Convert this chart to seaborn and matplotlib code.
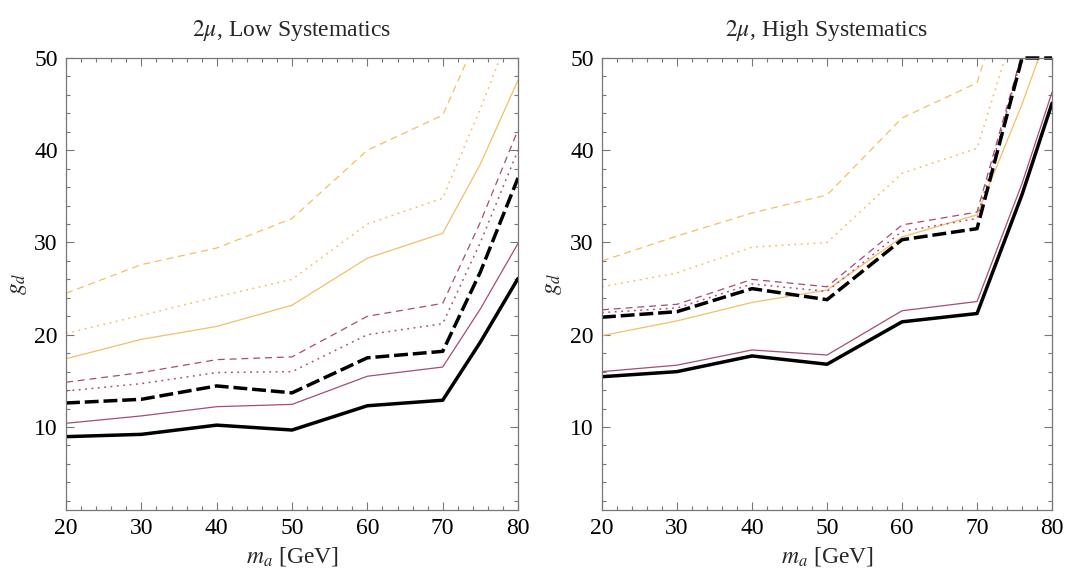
import numpy as np
import pandas as pd
import matplotlib
matplotlib.use("Agg")
import matplotlib.pyplot as plt
import seaborn as sns
from matplotlib.ticker import MultipleLocator

MASS_LOW = [20, 30, 40, 50, 60, 70, 75, 80]
MASS_HIGH = [20, 30, 40, 50, 60, 70, 76, 80]

# low systematics panel
LOW_BLACK_SOLID = [8.95, 9.2, 10.2, 9.67, 12.3, 12.9, 19.2, 26.1]
LOW_PURPLE_SOLID = [10.4, 11.2, 12.2, 12.45, 15.5, 16.5, 22.8, 29.9]
LOW_BLACK_DASHED = [12.6, 13.0, 14.45, 13.7, 17.5, 18.2, 26.8, 37.0]
LOW_PURPLE_DOTTED = [13.9, 14.7, 15.9, 16.0, 20.0, 21.2, 30.0, 40.0]
LOW_PURPLE_DASHED = [14.85, 15.9, 17.3, 17.6, 22.0, 23.4, 32.2, 42.2]
LOW_ORANGE_SOLID = [17.4, 19.5, 20.9, 23.2, 28.3, 31.0, 38.5, 47.6]
LOW_ORANGE_DOTTED = [20.15, 22.1, 24.1, 26.0, 32.0, 34.8, 44.5, 55.0]
LOW_ORANGE_DASHED = [24.5, 27.6, 29.4, 32.6, 40.0, 43.8, 53.0, 62.0]

# high systematics panel
HIGH_BLACK_SOLID = [15.45, 16.0, 17.7, 16.8, 21.4, 22.3, 35.2, 45.1]
HIGH_PURPLE_SOLID = [16.0, 16.7, 18.35, 17.8, 22.6, 23.6, 36.4, 46.3]
HIGH_BLACK_DASHED = [21.9, 22.5, 25.0, 23.8, 30.3, 31.5, 50.0, 50.0]
HIGH_PURPLE_DOTTED = [22.4, 22.9, 25.5, 24.7, 31.2, 32.6, 50.2, 61.0]
HIGH_PURPLE_DASHED = [22.7, 23.3, 26.0, 25.2, 31.9, 33.3, 50.5, 62.0]
HIGH_ORANGE_SOLID = [19.9, 21.5, 23.5, 24.85, 30.6, 33.0, 45.0, 54.0]
HIGH_ORANGE_DOTTED = [25.2, 26.7, 29.5, 30.0, 37.5, 40.2, 56.0, 66.0]
HIGH_ORANGE_DASHED = [28.0, 30.7, 33.2, 35.15, 43.5, 47.3, 63.0, 72.0]

TITLES = [r"$2\mu$, Low Systematics", r"$2\mu$, High Systematics"]

ORANGE = "#f3bf68"
PURPLE = "#a54c79"
BLACK = "#000000"

sns.set_theme(style="ticks")
plt.rcParams["font.family"] = ["Liberation Serif", "DejaVu Serif"]
plt.rcParams["mathtext.fontset"] = "stix"
plt.rcParams["lines.scale_dashes"] = False

SOLID = "-"
DASHED = (0, (5, 3.5))
DOTTED = (0, (1.3, 3.3))
BIG_DASH = (0, (10, 3.5))

# (values, color, width, style) in drawing order, back to front
low_series = [
	(LOW_ORANGE_DASHED, ORANGE, 0.9, DASHED),
	(LOW_ORANGE_DOTTED, ORANGE, 1.1, DOTTED),
	(LOW_ORANGE_SOLID, ORANGE, 0.9, SOLID),
	(LOW_PURPLE_DASHED, PURPLE, 0.9, DASHED),
	(LOW_PURPLE_DOTTED, PURPLE, 1.1, DOTTED),
	(LOW_PURPLE_SOLID, PURPLE, 0.9, SOLID),
	(LOW_BLACK_DASHED, BLACK, 2.5, BIG_DASH),
	(LOW_BLACK_SOLID, BLACK, 2.5, SOLID),
]
high_series = [
	(HIGH_ORANGE_DASHED, ORANGE, 0.9, DASHED),
	(HIGH_ORANGE_DOTTED, ORANGE, 1.1, DOTTED),
	(HIGH_ORANGE_SOLID, ORANGE, 0.9, SOLID),
	(HIGH_PURPLE_DASHED, PURPLE, 0.9, DASHED),
	(HIGH_PURPLE_DOTTED, PURPLE, 1.1, DOTTED),
	(HIGH_PURPLE_SOLID, PURPLE, 0.9, SOLID),
	(HIGH_BLACK_DASHED, BLACK, 2.5, BIG_DASH),
	(HIGH_BLACK_SOLID, BLACK, 2.5, SOLID),
]

fig = plt.figure(figsize=(10.67, 5.72), dpi=100)
ax_low = fig.add_axes([0.0619, 0.1084, 0.4236, 0.7902])
ax_high = fig.add_axes([0.5642, 0.1084, 0.4218, 0.7902])

for ax, mass, series, title in [
	(ax_low, MASS_LOW, low_series, TITLES[0]),
	(ax_high, MASS_HIGH, high_series, TITLES[1]),
]:
	for vals, col, lw, ls in series:
		df = pd.DataFrame({"m": mass, "g": vals})
		# a curve capped at the top edge is drawn over the frame, as in the original
		capped = vals[-1] == 50.0 and vals[-2] == 50.0
		sns.lineplot(data=df, x="m", y="g", ax=ax, color=col, linewidth=lw,
			linestyle=ls, estimator=None, sort=False, clip_on=not capped)
	ax.set_xlim(20, 80)
	ax.set_ylim(1, 50)
	ax.xaxis.set_major_locator(MultipleLocator(10))
	ax.xaxis.set_minor_locator(MultipleLocator(2))
	ax.yaxis.set_major_locator(MultipleLocator(10))
	ax.yaxis.set_minor_locator(MultipleLocator(2))
	ax.tick_params(which="both", direction="in", top=True, right=True,
		colors="#777777", labelcolor="black", labelsize=17, width=0.8)
	ax.tick_params(which="major", length=6, pad=6)
	ax.tick_params(which="minor", length=3)
	for sp in ax.spines.values():
		sp.set_color("#777777")
		sp.set_linewidth(0.9)
	ax.set_xlabel(r"$m_a$ [GeV]", fontsize=17, labelpad=4)
	ax.set_ylabel(r"$g_d$", fontsize=17, labelpad=4)
	ax.set_title(title, fontsize=17, pad=16)

fig.savefig("out.png", dpi=100)
plt.close(fig)
